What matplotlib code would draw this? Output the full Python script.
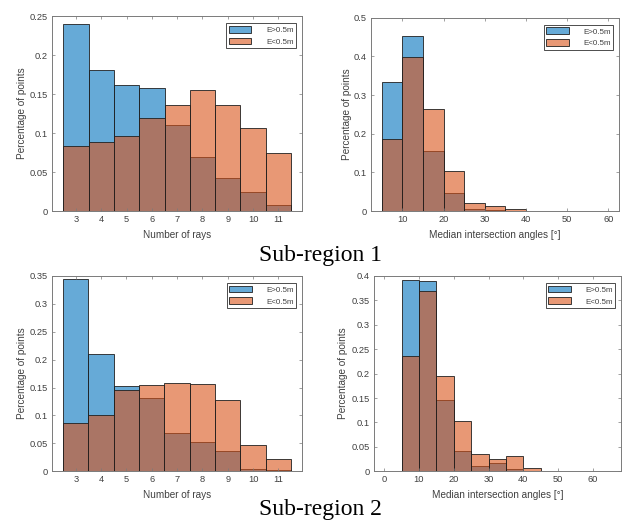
import matplotlib
matplotlib.use('Agg')
import matplotlib.pyplot as plt
from matplotlib.ticker import FuncFormatter, MultipleLocator

# Number of rays histograms (one bar per ray count)
ray_counts = [3, 4, 5, 6, 7, 8, 9, 10, 11]
rays_high_1 = [0.240, 0.181, 0.162, 0.158, 0.110, 0.069, 0.042, 0.024, 0.008]
rays_low_1 = [0.083, 0.088, 0.096, 0.119, 0.136, 0.155, 0.136, 0.106, 0.075]
rays_high_2 = [0.344, 0.210, 0.152, 0.131, 0.068, 0.053, 0.036, 0.005, 0.002]
rays_low_2 = [0.087, 0.100, 0.145, 0.154, 0.159, 0.157, 0.127, 0.047, 0.0215]

# Median intersection angle histograms (5 degree bins)
angle_edges_1 = [5, 10, 15, 20, 25, 30, 35, 40]
angles_high_1 = [0.333, 0.452, 0.155, 0.046, 0.005, 0.003, 0.001]
angles_low_1 = [0.186, 0.398, 0.264, 0.104, 0.021, 0.012, 0.005]
angle_edges_2 = [5, 10, 15, 20, 25, 30, 35, 40, 45]
angles_high_2 = [0.391, 0.389, 0.147, 0.041, 0.011, 0.017, 0.0045, 0.0015]
angles_low_2 = [0.2355, 0.370, 0.1945, 0.104, 0.035, 0.0246, 0.031, 0.0065]

legend_labels = ['E>0.5m', 'E<0.5m']

BLUE = (0.0, 0.447, 0.741, 0.6)
ORANGE = (0.85, 0.325, 0.098, 0.6)
EDGE = '#1f1f1f'
AXIS_COLOR = '#7a7a7a'
TEXT_COLOR = '#404040'

plt.rcParams['font.family'] = ['Liberation Sans', 'DejaVu Sans']


def fmt_tick(v, pos):
	return f'{v:g}'


def draw_hist(ax, lefts, widths, high, low):
	ax.bar(lefts, high, width=widths, align='edge', color=BLUE,
		edgecolor=EDGE, linewidth=0.6, label=legend_labels[0])
	ax.bar(lefts, low, width=widths, align='edge', color=ORANGE,
		edgecolor=EDGE, linewidth=0.6, label=legend_labels[1])


def style_axes(ax, xlabel, ylim, ystep, xlim, xticks, ylabel_x, xlabel_y):
	ax.set_xlim(*xlim)
	ax.set_ylim(*ylim)
	ax.set_xticks(xticks)
	ax.yaxis.set_major_locator(MultipleLocator(ystep))
	ax.yaxis.set_major_formatter(FuncFormatter(fmt_tick))
	ax.xaxis.set_major_formatter(FuncFormatter(fmt_tick))
	ax.tick_params(direction='in', length=2.5, width=0.5, colors=AXIS_COLOR,
		labelcolor=TEXT_COLOR, labelsize=6.7, top=True, right=True, pad=3)
	for sp in ax.spines.values():
		sp.set_color(AXIS_COLOR)
		sp.set_linewidth(0.7)
	ax.set_xlabel(xlabel, fontsize=7.2, color=TEXT_COLOR, va='center')
	ax.set_ylabel('Percentage of points', fontsize=7.2, color=TEXT_COLOR, va='center')
	ax.xaxis.set_label_coords(0.5, xlabel_y)
	ax.yaxis.set_label_coords(ylabel_x, 0.5)
	leg = ax.legend(loc='upper right', bbox_to_anchor=(0.976, 0.963), borderaxespad=0,
		fontsize=5.8, handlelength=2.8, handleheight=0.9, handletextpad=1.8,
		labelspacing=0.45, borderpad=0.3, fancybox=False, framealpha=1,
		edgecolor='#303030')
	leg.get_frame().set_linewidth(0.6)
	for t in leg.get_texts():
		t.set_color(TEXT_COLOR)


fig = plt.figure(figsize=(6.23, 5.25), dpi=100)

ray_lefts = [r - 0.5 for r in ray_counts]
ray_widths = [1.0] * len(ray_counts)

ax1 = fig.add_axes([0.0835, 0.598, 0.401, 0.371])
draw_hist(ax1, ray_lefts, ray_widths, rays_high_1, rays_low_1)
style_axes(ax1, 'Number of rays', (0, 0.25), 0.05, (2.05, 11.93), ray_counts, -0.12, -0.123)

ax2 = fig.add_axes([0.595, 0.598, 0.3986, 0.368])
draw_hist(ax2, angle_edges_1[:-1], [b - a for a, b in zip(angle_edges_1[:-1], angle_edges_1[1:])],
	angles_high_1, angles_low_1)
style_axes(ax2, 'Median intersection angles [°]', (0, 0.5), 0.1, (2.3, 62.6),
	[10, 20, 30, 40, 50, 60], -0.097, -0.124)

ax3 = fig.add_axes([0.083, 0.1023, 0.4018, 0.372])
draw_hist(ax3, ray_lefts, ray_widths, rays_high_2, rays_low_2)
style_axes(ax3, 'Number of rays', (0, 0.35), 0.05, (2.05, 11.93), ray_counts, -0.118, -0.121)

ax4 = fig.add_axes([0.6003, 0.1023, 0.397, 0.372])
draw_hist(ax4, angle_edges_2[:-1], [b - a for a, b in zip(angle_edges_2[:-1], angle_edges_2[1:])],
	angles_high_2, angles_low_2)
style_axes(ax4, 'Median intersection angles [°]', (0, 0.4), 0.05, (-2.9, 68.1),
	[0, 10, 20, 30, 40, 50, 60], -0.126, -0.121)

fig.text(0.514, 0.514, 'Sub-region 1', family='Liberation Serif', fontsize=17,
	ha='center', va='center', color='black')
fig.text(0.514, 0.029, 'Sub-region 2', family='Liberation Serif', fontsize=17,
	ha='center', va='center', color='black')

fig.savefig('out.png', dpi=100)
